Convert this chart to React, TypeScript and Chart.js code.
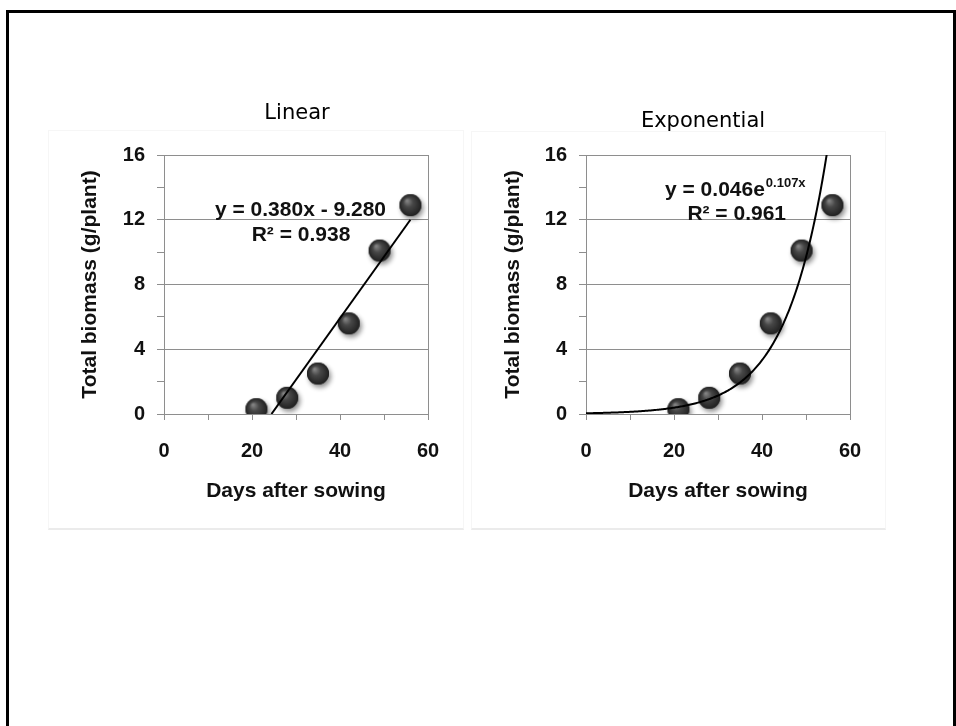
import React, { useEffect, useRef } from "react";
import { Chart, registerables } from "chart.js";

Chart.register(...registerables);

// ---- data ----
const days = [21, 28, 35, 42, 49, 56];
const biomass = [0.3, 1.0, 2.5, 5.6, 10.1, 12.9];
const xTickLabels = [0, 20, 40, 60];
const yTickLabels = [0, 4, 8, 12, 16];
const chartTitles = ["Linear", "Exponential"];
const xAxisTitle = "Days after sowing";
const yAxisTitle = "Total biomass (g/plant)";
// fitted trend lines (as shown in the equations)
const LIN_SLOPE = 0.38;
const LIN_INTERCEPT = -9.28;
const EXP_A = 0.046;
const EXP_B = 0.107;
const linearEqText = ["y = 0.380x - 9.280", "R² = 0.938"];
const expEqText = ["y = 0.046e", "0.107x", "R² = 0.961"];

const GRID = "#8e8e8e";
const FONT = '"Liberation Sans", Arial, sans-serif';

let sphereImg: HTMLCanvasElement | null = null;
function getSphere(): HTMLCanvasElement {
  if (sphereImg) return sphereImg;
  const size = 42;
  const c = document.createElement("canvas");
  c.width = size;
  c.height = size;
  const g = c.getContext("2d")!;
  const cx = 21, cy = 21, r = 11;
  g.save();
  g.shadowColor = "rgba(0,0,0,0.45)";
  g.shadowBlur = 5;
  g.shadowOffsetX = 2;
  g.shadowOffsetY = 3;
  g.fillStyle = "#2c2c2c";
  g.beginPath();
  g.arc(cx, cy, r, 0, Math.PI * 2);
  g.fill();
  g.restore();
  const grad = g.createRadialGradient(cx - 3.5, cy - 4.5, 0.5, cx, cy, r);
  grad.addColorStop(0, "#858585");
  grad.addColorStop(0.4, "#474747");
  grad.addColorStop(1, "#202020");
  g.fillStyle = grad;
  g.beginPath();
  g.arc(cx, cy, r, 0, Math.PI * 2);
  g.fill();
  sphereImg = c;
  return c;
}

type Props = {
  kind: "linear" | "exp";
  left: number;
  top: number;
  width: number;
  height: number;
  yWidth: number;
  titleX: number;
  titleY: number;
};

function BiomassChart(p: Props) {
  const ref = useRef<HTMLCanvasElement | null>(null);
  useEffect(() => {
    if (!ref.current) return;
    const sphere = getSphere();
    const points = days.map((d, i) => ({ x: d, y: biomass[i] }));
    let trend: { x: number; y: number }[] = [];
    if (p.kind === "linear") {
      const x0 = -LIN_INTERCEPT / LIN_SLOPE;
      const x1 = days[days.length - 1];
      trend = [
        { x: x0, y: 0 },
        { x: x1, y: LIN_SLOPE * x1 + LIN_INTERCEPT },
      ];
    } else {
      for (let x = 0; x <= 56; x += 0.25) {
        trend.push({ x, y: EXP_A * Math.exp(EXP_B * x) });
      }
    }
    const title = p.kind === "linear" ? chartTitles[0] : chartTitles[1];
    const annot = {
      id: "annot",
      afterDraw(chart: any) {
        const { ctx, chartArea } = chart;
        const L = chartArea.left, T = chartArea.top;
        ctx.save();
        ctx.fillStyle = "#000";
        ctx.textBaseline = "alphabetic";
        ctx.font = '21px "DejaVu Sans", sans-serif';
        ctx.textAlign = "center";
        ctx.fillText(title, p.titleX, p.titleY);
        ctx.fillStyle = "#111";
        ctx.font = "bold 21px " + FONT;
        if (p.kind === "linear") {
          ctx.fillText(linearEqText[0], L + 136.5, T + 61);
          ctx.fillText(linearEqText[1], L + 137, T + 86);
        } else {
          ctx.textAlign = "left";
          ctx.fillText(expEqText[0], L + 79, T + 41);
          const w = ctx.measureText(expEqText[0]).width;
          ctx.font = "bold 13px " + FONT;
          ctx.fillText(expEqText[1], L + 79 + w + 1, T + 32);
          ctx.font = "bold 21px " + FONT;
          ctx.textAlign = "center";
          ctx.fillText(expEqText[2], L + 150.7, T + 64.5);
        }
        ctx.restore();
      },
    };
    const chart = new Chart(ref.current, {
      type: "scatter",
      data: {
        datasets: [
          {
            type: "line",
            data: trend,
            borderColor: "#000",
            borderWidth: 2,
            pointRadius: 0,
            tension: 0,
            fill: false,
            order: 0,
          } as any,
          {
            type: "scatter",
            data: points,
            pointStyle: sphere,
            pointRadius: 11,
            order: 1,
          } as any,
        ],
      },
      options: {
        animation: false,
        responsive: false,
        maintainAspectRatio: false,
        layout: { padding: { top: 65, right: p.width - p.yWidth - 264, left: 0, bottom: 0 } },
        plugins: { legend: { display: false }, tooltip: { enabled: false } },
        scales: {
          x: {
            type: "linear",
            min: 0,
            max: 60,
            afterFit: (s: any) => {
              s.height = 116;
            },
            ticks: {
              stepSize: 10,
              autoSkip: false,
              maxRotation: 0,
              padding: 19,
              color: "#111",
              font: { family: FONT, size: 20, weight: "bold" },
              callback: (v: any) => (xTickLabels.includes(Number(v)) ? String(v) : ""),
            },
            grid: {
              color: (c: any) => (c.tick && c.tick.value === 60 ? GRID : "rgba(0,0,0,0)"),
              tickColor: GRID,
              tickLength: 6,
              lineWidth: 1,
            },
            border: { display: true, color: GRID, width: 1 },
            title: {
              display: true,
              text: xAxisTitle,
              color: "#111",
              font: { family: FONT, size: 21, weight: "bold" },
              padding: { top: 0, bottom: 26 },
            },
          },
          y: {
            type: "linear",
            min: 0,
            max: 16,
            afterFit: (s: any) => {
              s.width = p.yWidth;
            },
            ticks: {
              stepSize: 2,
              autoSkip: false,
              padding: 12,
              color: "#111",
              font: { family: FONT, size: 20, weight: "bold" },
              callback: (v: any) => (yTickLabels.includes(Number(v)) ? String(v) : ""),
            },
            grid: {
              color: (c: any) =>
                c.tick && yTickLabels.includes(c.tick.value) ? GRID : "rgba(0,0,0,0)",
              tickColor: GRID,
              tickLength: 7,
              lineWidth: 1,
            },
            border: { display: true, color: GRID, width: 1 },
            title: {
              display: true,
              text: yAxisTitle,
              color: "#111",
              font: { family: FONT, size: 21, weight: "bold" },
              padding: { top: 30, bottom: 0 },
            },
          },
        },
      } as any,
      plugins: [annot],
    });
    return () => chart.destroy();
  }, []);
  return (
    <canvas
      ref={ref}
      width={p.width}
      height={p.height}
      style={{ position: "absolute", left: p.left, top: p.top, width: p.width, height: p.height }}
    />
  );
}

export default function App() {
  return (
    <div
      style={{
        position: "absolute",
        left: 0,
        top: 0,
        width: 956,
        height: 726,
        overflow: "hidden",
        background: "#fff",
      }}
    >
      <div
        style={{
          position: "absolute",
          left: 6,
          top: 10,
          width: 950,
          height: 730,
          boxSizing: "border-box",
          borderTop: "3px solid #000",
          borderLeft: "3px solid #000",
          borderRight: "3px solid #000",
        }}
      />
      <div
        style={{
          position: "absolute",
          left: 48,
          top: 130,
          width: 416,
          height: 400,
          boxSizing: "border-box",
          border: "1px solid #f6f6f6",
          borderBottom: "2px solid #ebebeb",
        }}
      />
      <div
        style={{
          position: "absolute",
          left: 471,
          top: 131,
          width: 415,
          height: 399,
          boxSizing: "border-box",
          border: "1px solid #f6f6f6",
          borderBottom: "2px solid #ebebeb",
        }}
      />
      <BiomassChart kind="linear" left={48} top={90} width={416} height={440} yWidth={116} titleX={249} titleY={29} />
      <BiomassChart kind="exp" left={471} top={90} width={415} height={440} yWidth={115} titleX={232} titleY={37} />
    </div>
  );
}
